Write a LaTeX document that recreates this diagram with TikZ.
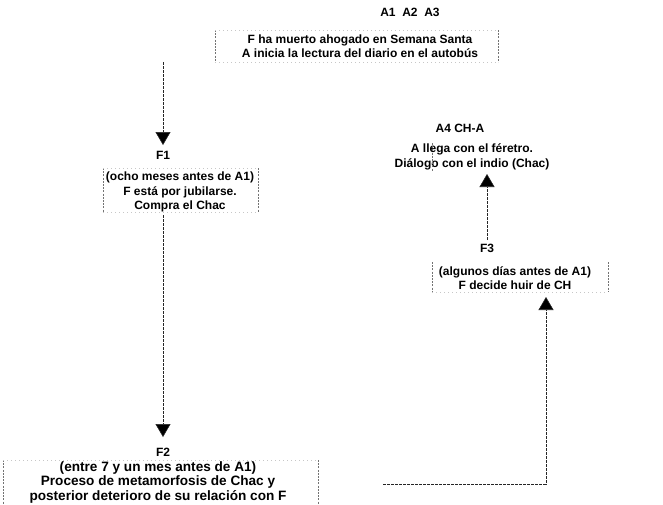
\documentclass[tikz,border=0pt]{standalone}
\usepackage{fontspec}
\setmainfont{Liberation Sans}
\usetikzlibrary{arrows.meta}
\begin{document}
\begin{tikzpicture}[x=1pt,y=-1pt,
  txt/.style={font=\bfseries\fontsize{12}{14.5}\selectfont, align=center, inner sep=0pt},
  bigtxt/.style={font=\bfseries\fontsize{13.6}{14.5}\selectfont, align=center, inner sep=0pt},
  conn/.style={draw=black!85, line width=0.55pt, dash pattern=on 3pt off 1pt, -{Triangle[width=15pt,length=13pt,fill=black]}},
  side/.style={draw=black!55, line width=0.5pt, dash pattern=on 2pt off 1.2pt},
  rim/.style={draw=black!22, line width=0.5pt, dash pattern=on 1pt off 3pt}]
\useasboundingbox (0,0) rectangle (663,504);

% top group
\node[txt] (hA) at (410,12) {A1\ \ A2\ \ A3};
\node[txt] (b1) at (360,46) {F ha muerto ahogado en Semana Santa\\A inicia la lectura del diario en el autobús};
\draw[side] (215,30) -- (215,62) (498,30) -- (498,62);
\draw[rim] (215,30) -- (498,30) (215,62) -- (498,62);

% F1
\coordinate (s1) at (163,62);
\node[txt] (f1) at (163,155) {F1};
\coordinate (t1) at (163,145);
\draw[conn] (s1) -- (t1);

\node[txt] (b2) at (180,192) {(ocho meses antes de A1)\\F está por jubilarse.\\Compra el Chac};
\draw[side] (103,168) -- (103,212) (258,168) -- (258,212);
\draw[rim] (103,168) -- (258,168) (103,212) -- (258,212);

% F2
\coordinate (s2) at (163,215);
\coordinate (t2) at (163,437);
\draw[conn] (s2) -- (t2);
\node[txt] (f2) at (163,452) {F2};
\node[bigtxt] (b3) at (158,482) {(entre 7 y un mes antes de A1)\\Proceso de metamorfosis de Chac y\\posterior deterioro de su relación con F};
\draw[side] (3,460) -- (3,504) (318,460) -- (318,504);
\draw[rim] (3,460) -- (318,460);

% right side
\node[txt] (hB) at (460,128) {A4 CH-A};
\node[txt] (b4) at (472,157) {A llega con el féretro.\\Diálogo con el indio (Chac)};
\draw[side] (432,143) -- (432,171);

\node[txt] (f3) at (487,248) {F3};
\coordinate (s3) at (487,240);
\coordinate (t3) at (487,174);
\draw[conn] (s3) -- (t3);

\node[txt] (b5) at (515,278) {(algunos días antes de A1)\\F decide huir de CH};
\draw[side] (432,262) -- (432,292) (608,262) -- (608,292);
\draw[rim] (432,292) -- (608,292);

\coordinate (s4) at (383,484);
\coordinate (k4) at (546,484);
\coordinate (t4) at (546,297);
\draw[conn] (s4) -- (k4) -- (t4);
\end{tikzpicture}
\end{document}
